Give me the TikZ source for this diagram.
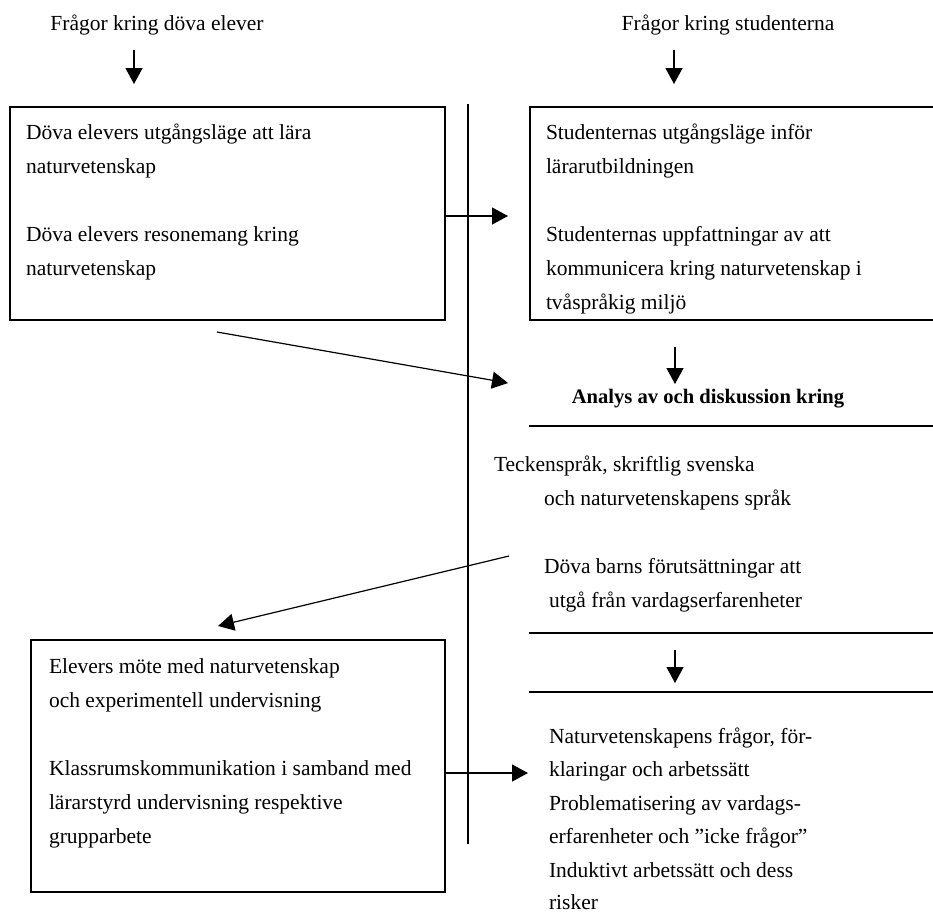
\documentclass[tikz,border=0pt]{standalone}
\usepackage{fontspec}
\setmainfont{Liberation Serif}
\usetikzlibrary{arrows.meta}
\begin{document}
\begin{tikzpicture}[x=1pt,y=-1pt,
  every node/.style={font=\fontsize{21.5}{34}\selectfont, inner sep=0pt, outer sep=0pt},
  txt/.style={anchor=base west},
  box/.style={draw, line width=1.3pt},
  conn/.style={line width=1.2pt, -{Triangle[length=16pt,width=17pt]}},
  rule/.style={line width=1.3pt}]
\useasboundingbox (0,0) rectangle (933,914);
\clip (0,0) rectangle (933,914);

% titles
\node[anchor=base] (t1) at (157,30) {Frågor kring döva elever};
\node[anchor=base] (t2) at (728,30) {Frågor kring studenterna};

% boxes
\node[box, minimum width=435pt, minimum height=213pt] (b1) at (227.5,213.5) {};
\node[box, minimum width=420pt, minimum height=213pt] (b2) at (740,213.5) {};
\node[box, minimum width=414pt, minimum height=252pt] (b3) at (238,766) {};

% box 1 text
\node[txt] (b1a) at (26,139) {Döva elevers utgångsläge att lära};
\node[txt] (b1b) at (26,173) {naturvetenskap};
\node[txt] (b1c) at (26,241) {Döva elevers resonemang kring};
\node[txt] (b1d) at (26,275) {naturvetenskap};

% box 2 text
\node[txt] (b2a) at (546,139) {Studenternas utgångsläge inför};
\node[txt] (b2b) at (546,173) {lärarutbildningen};
\node[txt] (b2c) at (546,241) {Studenternas uppfattningar av att};
\node[txt] (b2d) at (546,275) {kommunicera kring naturvetenskap i};
\node[txt] (b2e) at (546,309) {tvåspråkig miljö};

% middle right column
\node[anchor=base, font=\fontsize{20.6}{34}\selectfont\bfseries] (an) at (708,403) {Analys av och diskussion kring};
\node[txt] (m1) at (494,471) {Teckenspråk, skriftlig svenska};
\node[txt] (m2) at (544,505) {och naturvetenskapens språk};
\node[txt] (m3) at (544,573) {Döva barns förutsättningar att};
\node[txt] (m4) at (549,607) {utgå från vardagserfarenheter};

% box 3 text
\node[txt] (b3a) at (49,673) {Elevers möte med naturvetenskap};
\node[txt] (b3b) at (49,707) {och experimentell undervisning};
\node[txt] (b3c) at (49,775) {Klassrumskommunikation i samband med};
\node[txt] (b3d) at (49,809) {lärarstyrd undervisning respektive};
\node[txt] (b3e) at (49,843) {grupparbete};

% bottom right text
\node[txt] (r1) at (549,743) {Naturvetenskapens frågor, för-};
\node[txt] (r2) at (549,776) {klaringar och arbetssätt};
\node[txt] (r3) at (549,810) {Problematisering av vardags-};
\node[txt] (r4) at (549,843) {erfarenheter och ”icke frågor”};
\node[txt] (r5) at (549,877) {Induktivt arbetssätt och dess};
\node[txt] (r6) at (549,909) {risker};

% coordinates
\coordinate (a1s) at (134,50);  \coordinate (a1e) at (134,84);
\coordinate (a2s) at (674,50);  \coordinate (a2e) at (674,84);
\coordinate (vtop) at (468,104); \coordinate (vbot) at (468,844);
\coordinate (h1e) at (508,216);
\coordinate (d1s) at (217,332); \coordinate (d1e) at (508,383);
\coordinate (a3s) at (675,347); \coordinate (a3e) at (675,384);
\coordinate (l1s) at (529,426); \coordinate (l1e) at (933,426);
\coordinate (d2s) at (509,556); \coordinate (d2e) at (218,626);
\coordinate (l2s) at (529,633); \coordinate (l2e) at (933,633);
\coordinate (a4s) at (675,650); \coordinate (a4e) at (675,683);
\coordinate (l3s) at (529,692); \coordinate (l3e) at (933,692);
\coordinate (h2e) at (528,773);

% connectors
\draw[conn] (a1s) -- (a1e);
\draw[conn] (a2s) -- (a2e);
\draw[line width=1.2pt] (vtop) -- (vbot);
\draw[conn] (b1.east |- h1e) -- (h1e);
\draw[conn] (d1s) -- (d1e);
\draw[conn] (a3s) -- (a3e);
\draw[rule] (l1s) -- (l1e);
\draw[conn] (d2s) -- (d2e);
\draw[rule] (l2s) -- (l2e);
\draw[conn] (a4s) -- (a4e);
\draw[rule] (l3s) -- (l3e);
\draw[conn] (b3.east |- h2e) -- (h2e);
\end{tikzpicture}
\end{document}
